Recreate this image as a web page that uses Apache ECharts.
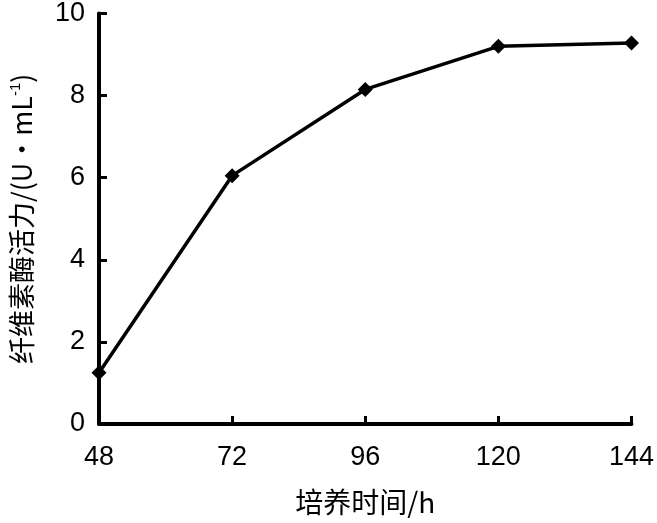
<!DOCTYPE html>
<html><head><meta charset="utf-8">
<script src="https://cdn.jsdelivr.net/npm/echarts@6/dist/echarts.min.js"></script>
<style>html,body{margin:0;padding:0;background:#fff}#c{width:657px;height:523px}</style>
</head><body><div id="c"></div>
<script>
var hours = [48, 72, 96, 120, 144];
var activity = [1.25, 6.05, 8.15, 9.2, 9.28];
var xTicks = [48, 72, 96, 120, 144];
var yTicks = [0, 2, 4, 6, 8, 10];

var chart = echarts.init(document.getElementById('c'));
var fontFam = '"Liberation Sans", "Noto Sans CJK SC", sans-serif';
var cjk = '"Noto Sans CJK SC", sans-serif';
chart.setOption({
  animation: false,
  backgroundColor: '#fff',
  grid: {left: 97, right: 23, top: 10, bottom: 99, containLabel: false},
  xAxis: {
    type: 'value', min: 48, max: 144, interval: 24,
    axisLine: {show: true, lineStyle: {color: '#000', width: 4}},
    axisTick: {show: true, inside: true, length: 8, lineStyle: {color: '#000', width: 3}},
    axisLabel: {color: '#000', fontSize: 27, fontFamily: fontFam, margin: 20,
      formatter: function (v) { return xTicks.indexOf(v) >= 0 ? String(v) : ''; }},
    splitLine: {show: false},
    name: '培养时间/h', nameLocation: 'middle', nameGap: 64,
    nameTextStyle: {color: '#000', fontSize: 28, fontFamily: cjk}
  },
  yAxis: {
    type: 'value', min: 0, max: 10, interval: 2,
    axisLine: {show: true, lineStyle: {color: '#000', width: 4}},
    axisTick: {show: true, inside: true, length: 8, lineStyle: {color: '#000', width: 3}},
    axisLabel: {color: '#000', fontSize: 27, fontFamily: fontFam, margin: 14,
      formatter: function (v) { return yTicks.indexOf(v) >= 0 ? String(v) : ''; }},
    splitLine: {show: false},
    name: '{a|纤维素酶活力/(U·mL}{s|-1}{a|)}', nameLocation: 'middle', nameGap: 64,
    nameTextStyle: {color: '#000', fontSize: 27, fontFamily: cjk,
      rich: {
        a: {fontSize: 27, fontFamily: cjk, color: '#000'},
        s: {fontSize: 15, fontFamily: fontFam, color: '#000', verticalAlign: 'top', padding: [0, 0, 12, 0]}
      }}
  },
  series: [{
    type: 'line',
    data: hours.map(function (h, i) { return [h, activity[i]]; }),
    lineStyle: {color: '#000', width: 3.5},
    itemStyle: {color: '#000'},
    symbol: 'diamond', symbolSize: 15,
    clip: false
  }]
});
</script></body></html>
